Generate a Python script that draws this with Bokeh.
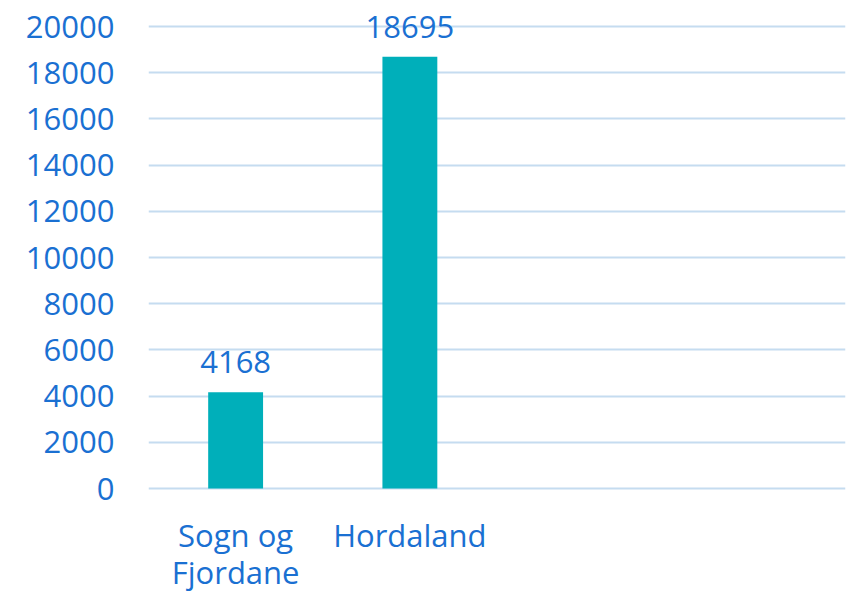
from bokeh.plotting import figure
from bokeh.models import ColumnDataSource, FixedTicker, Range1d
from bokeh.embed import file_html
from bokeh.resources import INLINE
from bokeh.core.properties import value

categories = ["Sogn og\nFjordane", "Hordaland", "c3", "c4"]
bar_categories = ["Sogn og\nFjordane", "Hordaland"]
values = [4168, 18695]
labels = [str(v) for v in values]
y_ticks = list(range(0, 20001, 2000))

BLUE = "#1a70d2"
TEAL = "#00afba"
GRID = "#c5dcf0"
FONT = "Open Sans"

src = ColumnDataSource(dict(cat=bar_categories, val=values, lab=labels,
                            zero=[0] * len(values)))

p = figure(x_range=categories, y_range=Range1d(-4632, 21126), width=848, height=595,
           output_backend="svg", toolbar_location=None,
           min_border_left=148, min_border_right=3, min_border_top=0, min_border_bottom=0)
p.outline_line_color = None
p.background_fill_color = "white"
p.xaxis.visible = False

p.vbar(x="cat", top="val", width=0.315, source=src, fill_color=TEAL, line_color=None)
p.text(x="cat", y="val", text="lab", source=src, text_align="center", text_baseline="alphabetic",
       y_offset=-30, text_color=BLUE, text_font=value(FONT), text_font_size="31px")
p.text(x="cat", y="zero", text="cat", source=src, text_align="center", text_baseline="top",
       y_offset=25, text_color=BLUE, text_font=value(FONT), text_font_size="31px",
       text_line_height=0.9)

p.yaxis.ticker = FixedTicker(ticks=y_ticks)
p.ygrid.ticker = FixedTicker(ticks=y_ticks)
p.ygrid.grid_line_color = GRID
p.ygrid.grid_line_width = 2
p.xgrid.grid_line_color = None

ax = p.yaxis
ax.axis_line_color = None
ax.major_tick_line_color = None
ax.minor_tick_line_color = None
ax.major_label_text_color = BLUE
ax.major_label_text_font = FONT
ax.major_label_text_font_size = "31px"
ax.major_label_standoff = 28

open("out.html", "w").write(file_html(p, INLINE))
